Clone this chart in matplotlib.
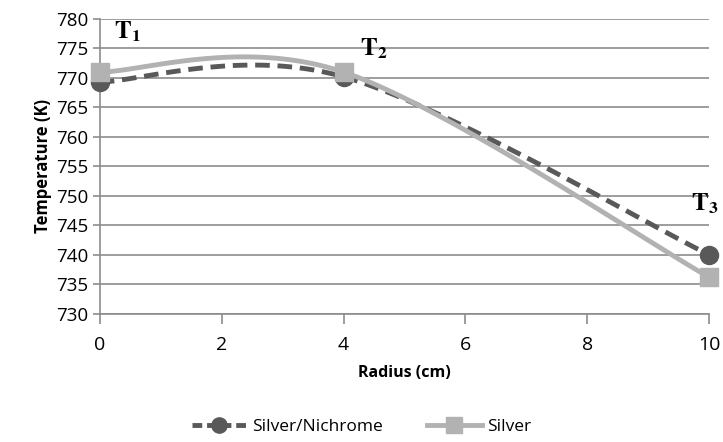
import matplotlib
matplotlib.use('Agg')
import matplotlib.pyplot as plt
import numpy as np

plt.rcParams['font.family'] = ['Open Sans', 'DejaVu Sans']
plt.rcParams['mathtext.fontset'] = 'stix'

radius = [0, 4, 10]
nichrome = [769.3, 770.2, 740.0]
silver = [771.0, 771.0, 736.2]
point_labels = [r'$\mathbf{T_1}$', r'$\mathbf{T_2}$', r'$\mathbf{T_3}$']
label_pos = [(0.45, 777.8), (4.5, 775.0), (9.93, 748.6)]


def excel_smooth(xs, ys, n=60):
    # bezier smoothing like spreadsheet "smoothed line"
    p = np.column_stack([xs, ys]).astype(float)
    ext = np.vstack([p[0], p, p[-1]])
    out = []
    t = np.linspace(0, 1, n)[:, None]
    for i in range(len(p) - 1):
        p0, p1 = ext[i + 1], ext[i + 2]
        c1 = p0 + (ext[i + 2] - ext[i]) / 6
        c2 = p1 - (ext[i + 3] - ext[i + 1]) / 6
        seg = ((1 - t) ** 3) * p0 + 3 * t * (1 - t) ** 2 * c1 + 3 * t ** 2 * (1 - t) * c2 + t ** 3 * p1
        out.append(seg)
    seg = np.vstack(out)
    return seg[:, 0], seg[:, 1]


dark = '#595959'
light = '#b2b2b2'

fig = plt.figure(figsize=(7.23, 4.42), dpi=100)
ax = fig.add_axes([0.138, 0.29, 0.843, 0.667])

sx, sy = excel_smooth(radius, silver)
nx, ny = excel_smooth(radius, nichrome)
ax.plot(nx, ny, color=dark, lw=3.5, ls=(0, (3, 1.6)), zorder=3, clip_on=False)
ax.plot(radius, nichrome, 'o', color=dark, ms=13, zorder=4, clip_on=False)
ax.plot(sx, sy, color=light, lw=3.5, zorder=5, clip_on=False)
ax.plot(radius, silver, 's', color=light, ms=13, zorder=6, clip_on=False)

for lab, (lx, ly) in zip(point_labels, label_pos):
    ax.text(lx, ly, lab, fontsize=18, ha='center', va='center')

ax.set_xlim(0, 10)
ax.set_ylim(730, 780)
ax.set_xticks([0, 2, 4, 6, 8, 10])
ax.set_yticks(np.arange(730, 781, 5))
ax.grid(axis='y', color='#8c8c8c', lw=1.2)
ax.set_axisbelow(True)
for s in ['top', 'right']:
    ax.spines[s].set_visible(False)
for s in ['left', 'bottom']:
    ax.spines[s].set_color('#8c8c8c')
    ax.spines[s].set_linewidth(1.2)
ax.tick_params(axis='x', length=7, color='#8c8c8c', width=1.2, labelsize=14, pad=9)
ax.tick_params(axis='y', length=5, color='#8c8c8c', width=1.2, labelsize=13.5, pad=3)
ax.set_xlabel('Radius (cm)', fontsize=11.5, fontweight='bold', labelpad=8)
ax.set_ylabel('Temperature (K)', fontsize=12, fontweight='bold', labelpad=3)

h1, = ax.plot([], [], color=dark, lw=3.5, ls=(0, (2, 1)), marker='o', ms=11)
h2, = ax.plot([], [], color=light, lw=3.5, marker='s', ms=11)
fig.legend([h1, h2], ['Silver/Nichrome', 'Silver'], loc='center', bbox_to_anchor=(0.5, 0.035),
           ncol=2, frameon=False, fontsize=12.5, handlelength=3.2, columnspacing=2.5, handletextpad=0.3)

fig.savefig('out.png', dpi=100)
